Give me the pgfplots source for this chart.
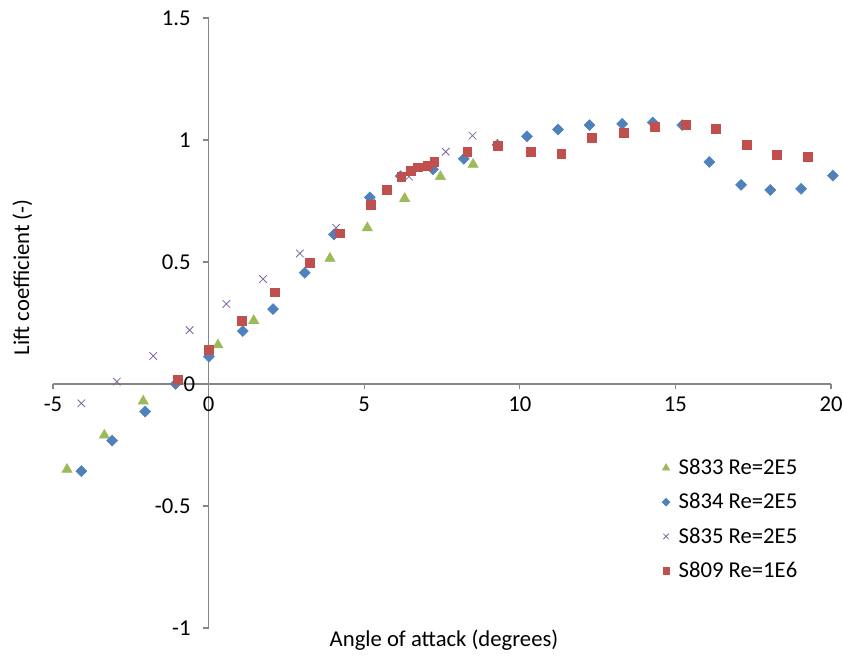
\documentclass[border=0pt]{standalone}
\usepackage{pgfplots}
\pgfplotsset{compat=1.18}
\usepackage{fontspec}
\setmainfont{Carlito}

\definecolor{exgreen}{HTML}{9BBB59}
\definecolor{exblue}{HTML}{4F81BD}
\definecolor{expurple}{HTML}{8064A2}
\definecolor{exred}{HTML}{C0504D}
\definecolor{axgray}{HTML}{868686}

\begin{document}
\begin{tikzpicture}[x=1pt,y=1pt]
% page size: 843 x 658 px at 0.75 pt per px
\path[use as bounding box] (-39.75,-22.5) rectangle (592.5,471);
\begin{axis}[
  scale only axis,
  width=583.5pt, height=457.5pt,
  xmin=-5, xmax=20, ymin=-1, ymax=1.5,
  axis lines=middle,
  axis line style={-, draw=axgray, line width=0.9pt},
  tick style={draw=axgray, line width=0.9pt},
  tick align=outside,
  major tick length=4pt,
  hide obscured x ticks=false,
  hide obscured y ticks=false,
  xtick={-5,0,5,10,15,20},
  ytick={-1,-0.5,0,0.5,1,1.5},
  yticklabels={-1,-0.5,{},0.5,1,1.5},
  xticklabels={-5,0,5,10,15,20},
  ticklabel style={font=\fontsize{17}{19}\selectfont},
  xticklabel style={yshift=-2pt},
  yticklabel style={xshift=-6pt},
  xlabel={Angle of attack (degrees)},
  ylabel={Lift coefficient (-)},
  label style={font=\fontsize{17}{19}\selectfont},
  xlabel style={at={(rel axis cs:0.5,0)}, anchor=center, xshift=1.5pt, yshift=-9pt},
  ylabel style={at={(rel axis cs:0,0.575)}, anchor=center, rotate=90, yshift=23pt},
  legend style={draw=none, fill=none, at={(rel axis cs:0.7775,0.286)}, anchor=north west,
    font=\fontsize{17}{19}\selectfont, row sep=8.6pt,
    nodes={inner xsep=6.5pt}},
  legend image code/.code={\draw[mark repeat=2,mark phase=2,every mark/.append style={scale=0.72}]
    plot coordinates {(0cm,0cm) (0.12cm,0cm) (0.24cm,0cm)};},
  legend cell align=left,
  clip=false,
]
\addplot[only marks, mark=triangle*, mark size=4.4pt, color=exgreen] coordinates {
  (-4.55,-0.35) (-3.35,-0.21) (-2.1,-0.07) (-0.95,0.01) (0.3,0.16) (1.45,0.26)
  (3.9,0.515) (5.1,0.64) (6.3,0.76) (7.45,0.85) (8.5,0.90)
};
\addlegendentry{S833 Re=2E5}
\addplot[only marks, mark=square*, mark size=2.9pt, mark options={rotate=45}, color=exblue] coordinates {
  (-4.09,-0.357) (-3.10,-0.232) (-2.04,-0.113) (-1.06,0.0) (0.01,0.112) (1.10,0.217)
  (2.07,0.307) (3.09,0.456) (4.03,0.613) (5.18,0.765) (6.17,0.852) (7.21,0.88)
  (8.20,0.923) (9.28,0.98) (10.23,1.015) (11.23,1.043) (12.24,1.061) (13.29,1.066)
  (14.27,1.072) (15.22,1.061) (16.09,0.91) (17.11,0.816) (18.05,0.795) (19.04,0.80)
  (20.06,0.854)
};
\addlegendentry{S834 Re=2E5}
\addplot[only marks, mark=x, mark size=4pt, line width=0.6pt, color=expurple] coordinates {
  (-4.09,-0.079) (-2.95,0.01) (-1.78,0.115) (-0.61,0.221) (0.57,0.328) (1.75,0.43)
  (2.93,0.535) (4.10,0.64) (5.23,0.743) (6.44,0.85) (7.62,0.952) (8.48,1.018)
};
\addlegendentry{S835 Re=2E5}
\addplot[only marks, mark=square*, mark size=3.3pt, color=exred] coordinates {
  (-0.99,0.016) (0.0,0.139) (1.06,0.258) (2.12,0.376) (3.25,0.497) (4.22,0.618)
  (5.21,0.735) (5.73,0.795) (6.19,0.85) (6.50,0.873) (6.72,0.888) (7.03,0.896)
  (7.25,0.911) (8.31,0.952) (9.28,0.977) (10.34,0.953) (11.33,0.945) (12.30,1.01)
  (13.35,1.031) (14.34,1.055) (15.33,1.061) (16.30,1.046) (17.29,0.98) (18.26,0.941)
  (19.25,0.93)
};
\addlegendentry{S809 Re=1E6}
% the y-axis zero label is set above the markers that sit next to it
\node[anchor=east, xshift=-10pt, inner sep=0pt, font=\fontsize{17}{19}\selectfont]
  at (axis cs:0,0) {0};
\end{axis}
\end{tikzpicture}
\end{document}
